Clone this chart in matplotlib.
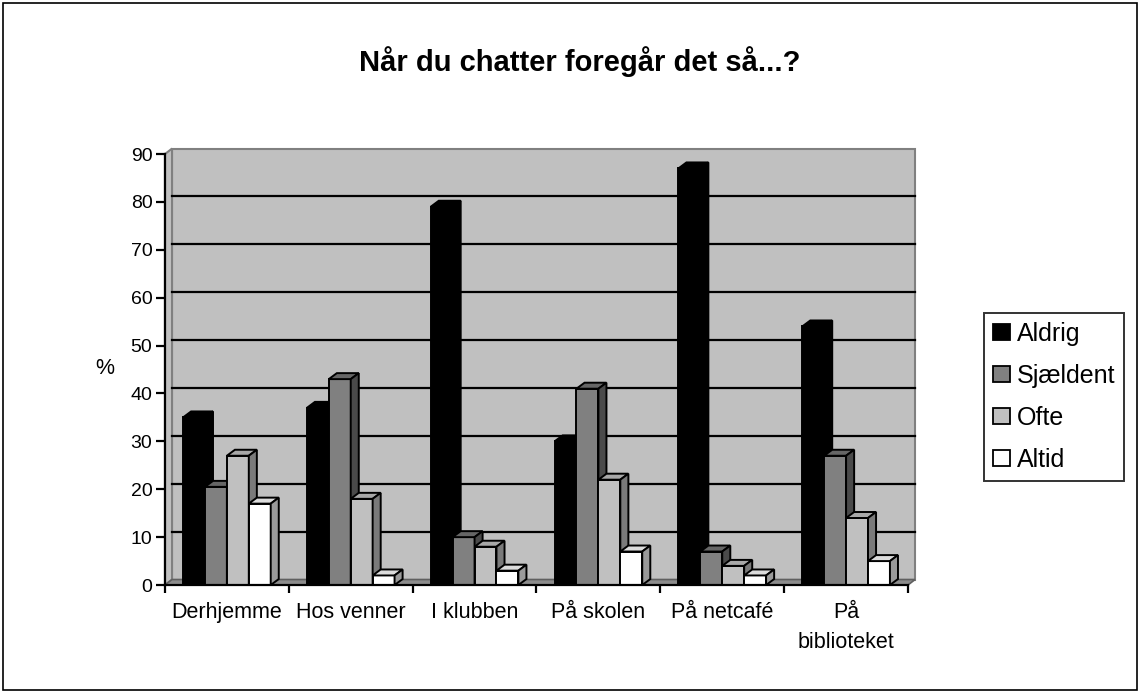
import matplotlib
matplotlib.use("Agg")
import matplotlib.pyplot as plt
from matplotlib.patches import Patch, Polygon, Rectangle


CATEGORIES = ["Derhjemme", "Hos venner", "I klubben", "På skolen", "På netcafé", "På\nbiblioteket"]
SERIES = ["Aldrig", "Sjældent", "Ofte", "Altid"]

ALDRIG = [35, 37, 79, 30, 87, 54]
SJAELDENT = [20.5, 43, 10, 41, 7, 27]
OFTE = [27, 18, 8, 22, 4, 14]
ALTID = [17, 2, 3, 7, 2, 5]

VALUES = [ALDRIG, SJAELDENT, OFTE, ALTID]
Y_TICKS = list(range(0, 91, 10))

TITLE = "Når du chatter foregår det så...?"

# front, top, side face colours for each series
FACES = [
    ("#000000", "#000000", "#000000"),
    ("#808080", "#666666", "#4a4a4a"),
    ("#c0c0c0", "#a8a8a8", "#7a7a7a"),
    ("#ffffff", "#dcdcdc", "#9a9a9a"),
]

WALL = "#c0c0c0"
BAR_WIDTH = 0.177
DX, DY = 0.065, 1.25       # bar depth in data units
WX, WY = 0.057, 1.15       # wall depth in data units

plt.rcParams["font.family"] = ["Liberation Sans", "DejaVu Sans"]

fig = plt.figure(figsize=(11.4, 6.93), dpi=100)
fig.patches.append(Rectangle((0.003, 0.004), 0.994, 0.991, transform=fig.transFigure,
                             fill=False, edgecolor="black", linewidth=1.2))

ax = fig.add_axes([0.1447, 0.1558, 0.6518, 0.6219])
ax.set_xlim(0, len(CATEGORIES))
ax.set_ylim(0, 90)
ax.patch.set_visible(False)

n_cat = len(CATEGORIES)
ymax = Y_TICKS[-1]

# back wall, side wall and floor
ax.add_patch(Polygon([(WX, WY), (n_cat + WX, WY), (n_cat + WX, ymax + WY), (WX, ymax + WY)],
                     closed=True, facecolor=WALL, edgecolor="#808080", linewidth=1.5,
                     clip_on=False, zorder=0))
ax.add_patch(Polygon([(0, 0), (WX, WY), (WX, ymax + WY), (0, ymax)],
                     closed=True, facecolor=WALL, edgecolor="#808080", linewidth=1.5,
                     clip_on=False, zorder=0.5))
ax.add_patch(Polygon([(0, 0), (n_cat, 0), (n_cat + WX, WY), (WX, WY)],
                     closed=True, facecolor="#8c8c8c", edgecolor="#606060", linewidth=1.2,
                     clip_on=False, zorder=0.5))
for y in Y_TICKS[1:-1]:
    ax.plot([WX, n_cat + WX], [y + WY, y + WY], color="black", linewidth=1.6,
            clip_on=False, zorder=0.6)

# bars with a fake 3D depth
z = 2
for i in range(n_cat):
    center = i + 0.5
    for k, values in enumerate(VALUES):
        v = values[i]
        x0 = center + (k - 2) * BAR_WIDTH
        x1 = x0 + BAR_WIDTH
        front, top, side = FACES[k]
        ax.bar(x0, v, width=BAR_WIDTH, align="edge", color=front,
               edgecolor="black", linewidth=1.4, zorder=z)
        ax.add_patch(Polygon([(x0, v), (x0 + DX, v + DY), (x1 + DX, v + DY), (x1, v)],
                             closed=True, facecolor=top, edgecolor="black",
                             linewidth=1.4, clip_on=False, zorder=z))
        ax.add_patch(Polygon([(x1, 0), (x1, v), (x1 + DX, v + DY), (x1 + DX, DY)],
                             closed=True, facecolor=side, edgecolor="black",
                             linewidth=1.4, clip_on=False, zorder=z))
        z += 0.01

for name in ["top", "right"]:
    ax.spines[name].set_visible(False)
for name in ["left", "bottom"]:
    ax.spines[name].set_linewidth(1.6)
    ax.spines[name].set_zorder(5)

ax.set_yticks(Y_TICKS)
ax.tick_params(axis="y", direction="out", length=6.5, width=1.6, labelsize=14, pad=2.5)
ax.set_xticks(range(n_cat + 1))
ax.set_xticklabels([])
ax.set_xticks([i + 0.5 for i in range(n_cat)], minor=True)
ax.set_xticklabels(CATEGORIES, minor=True, fontsize=15.5, linespacing=1.6)
ax.tick_params(axis="x", which="major", direction="out", length=6, width=1.6)
ax.tick_params(axis="x", which="minor", length=0, pad=12)

fig.text(0.5086, 1 - 70.7 / 693, TITLE, ha="center", va="baseline",
         fontsize=21, fontweight="bold")
fig.text(0.092, 1 - 369 / 693, "%", ha="center", va="center", fontsize=15.5)

handles = [Patch(facecolor=f[0], edgecolor="black", linewidth=1.3) for f in FACES]
leg = ax.legend(handles, SERIES, loc="upper left", bbox_to_anchor=(0.863, 0.548),
                bbox_transform=fig.transFigure, borderaxespad=0, fontsize=18,
                frameon=True, fancybox=False, handlelength=0.68, handleheight=0.6,
                handletextpad=0.27, labelspacing=0.72, borderpad=0.36)
leg.get_frame().set_edgecolor("black")
leg.get_frame().set_linewidth(1.4)

fig.savefig("out.png", dpi=100)
